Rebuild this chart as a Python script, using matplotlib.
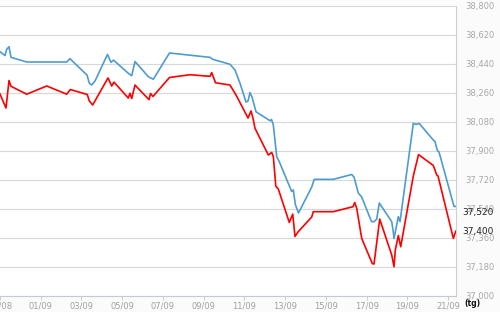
import matplotlib
matplotlib.use("Agg")
import matplotlib.pyplot as plt
import matplotlib.dates as mdates
import matplotlib.ticker as mticker
import matplotlib.transforms as mtransforms
import pandas as pd
import numpy as np

plt.rcParams['font.family'] = ['DejaVu Sans']

base_date = "2023-08-30"

# Blue series: (days since 30/08, price)
blue_days = [0.0, 0.245, 0.329, 0.442, 0.54, 1.311, 3.274, 3.436, 3.598, 4.271,
             4.384, 4.502, 4.664, 5.277, 5.449, 5.572, 6.298, 6.465, 6.627, 7.280,
             7.398, 7.526, 8.321, 10.309, 10.457, 11.291, 11.537, 11.782, 12.077, 12.175,
             12.273, 12.371, 12.567, 13.255, 13.328, 13.417, 13.584, 13.711, 14.320, 14.399,
             14.497, 14.654, 15.302, 15.424, 16.362, 17.266, 17.378, 17.590, 17.756, 18.238,
             18.360, 18.493, 18.620, 19.229, 19.293, 19.342, 19.553, 19.637, 20.290, 20.422,
             20.584, 21.271, 21.355, 21.468, 21.551, 22.288, 22.371]
blue_vals = [38516, 38492, 38531, 38547, 38481, 38452, 38452, 38473, 38452, 38371,
             38320, 38309, 38334, 38499, 38450, 38464, 38382, 38367, 38455, 38361,
             38353, 38345, 38508, 38481, 38468, 38438, 38402, 38320, 38203, 38210,
             38262, 38234, 38143, 38087, 38095, 38061, 37864, 37832, 37647, 37657,
             37567, 37514, 37675, 37723, 37723, 37753, 37737, 37638, 37613, 37460,
             37460, 37476, 37576, 37460, 37408, 37355, 37491, 37460, 38071, 38064,
             38070, 37967, 37957, 37902, 37893, 37554, 37555]

# Red series
red_days = [0.0, 0.295, 0.442, 0.54, 1.311, 2.293, 3.274, 3.451, 4.286, 4.384,
            4.551, 5.302, 5.483, 5.596, 6.298, 6.382, 6.465, 6.627, 7.315, 7.388,
            7.511, 8.321, 9.327, 10.309, 10.393, 10.579, 11.291, 11.586, 12.175, 12.322,
            12.420, 12.518, 13.172, 13.338, 13.417, 13.539, 13.662, 14.202, 14.369, 14.482,
            14.629, 15.302, 15.380, 16.362, 17.329, 17.413, 17.511, 17.756, 18.277, 18.360,
            18.640, 19.229, 19.342, 19.406, 19.553, 19.671, 20.290, 20.545, 21.271, 21.438,
            21.502, 22.254, 22.371]
red_vals = [38253, 38166, 38337, 38301, 38252, 38303, 38252, 38281, 38250, 38210,
            38185, 38353, 38303, 38327, 38228, 38258, 38225, 38309, 38218, 38256,
            38238, 38356, 38373, 38363, 38386, 38323, 38309, 38247, 38104, 38148,
            38102, 38040, 37874, 37890, 37865, 37681, 37663, 37455, 37507, 37368,
            37396, 37489, 37522, 37522, 37553, 37579, 37543, 37356, 37199, 37197,
            37476, 37253, 37180, 37284, 37374, 37304, 37744, 37877, 37809, 37750,
            37744, 37356, 37400]

y_ticks = [37000, 37180, 37360, 37540, 37720, 37900, 38080, 38260, 38440, 38620, 38800]
x_tick_dates = ["2023-08-30", "2023-09-01", "2023-09-03", "2023-09-05", "2023-09-07",
                "2023-09-09", "2023-09-11", "2023-09-13", "2023-09-15", "2023-09-17",
                "2023-09-19", "2023-09-21"]
current_labels = ["37,520", "37,400"]
current_values = [37520, 37400]
unit_label = "(tg)"

base = pd.Timestamp(base_date)
bx = base + pd.to_timedelta(blue_days, unit="D")
rx = base + pd.to_timedelta(red_days, unit="D")

fig = plt.figure(figsize=(5, 3.12), dpi=100, facecolor="#fbfbfb")
W, H = 500, 312
ax = fig.add_axes([0, 1 - 295.7 / H, 455.7 / W, (295.7 - 6) / H])
ax.set_facecolor("white")

ax.plot(bx, blue_vals, color="#4e9ccf", lw=1.2, zorder=3)
ax.plot(rx, red_vals, color="#ff0000", lw=1.2, zorder=3)

ax.set_ylim(37000, 38800)
ax.set_xlim(base, base + pd.Timedelta(days=22.37))

ax.yaxis.tick_right()
ax.set_yticks(y_ticks)
ax.yaxis.set_major_formatter(mticker.FuncFormatter(lambda v, p: f"{v:,.0f}"))
ax.tick_params(axis="y", length=0, pad=7, labelsize=6, labelcolor="#a8a8a8")

ax.set_xticks(pd.to_datetime(x_tick_dates))
ax.xaxis.set_major_formatter(mdates.DateFormatter("%d/%m"))
ax.tick_params(axis="x", length=3, width=0.6, color="#c0c6cc", pad=1.5,
               labelsize=6, labelcolor="#a0a0a0")

ax.grid(axis="y", color="#d8d8d8", lw=0.8, zorder=1)
ax.grid(axis="x", visible=False)
for s in ["left", "top"]:
    ax.spines[s].set_visible(False)
ax.spines["right"].set_color("#d0d0d0")
ax.spines["right"].set_linewidth(0.8)
ax.spines["bottom"].set_color("#c4cad0")
ax.spines["bottom"].set_linewidth(0.8)

trans = mtransforms.blended_transform_factory(ax.transAxes, ax.transData)
for lbl, val in zip(current_labels, current_values):
    ax.text(1.0 + 7.0 / 455.7, val, lbl, transform=trans, ha="left", va="center",
            fontsize=6.5, color="#222222", zorder=5, clip_on=False)

fig.text(464 / W, 1 - 304 / H, unit_label, ha="left", va="center",
         fontsize=5.5, fontweight="bold", color="#111111")

fig.savefig("out.png", dpi=100, facecolor=fig.get_facecolor())
